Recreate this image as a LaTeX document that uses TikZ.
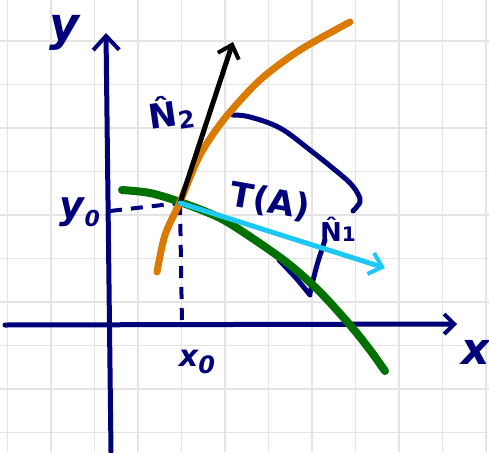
\documentclass[tikz,border=0pt]{standalone}
\usepackage{fontspec}
\setmainfont{DejaVu Sans}
\usetikzlibrary{arrows.meta}
\definecolor{inknavy}{RGB}{0,0,122}
\definecolor{inkorange}{RGB}{218,122,0}
\definecolor{inkgreen}{RGB}{0,112,0}
\definecolor{inkcyan}{RGB}{30,200,245}
\definecolor{gridgray}{RGB}{228,228,228}
\tikzset{
  ink/.style={line cap=round,line join=round},
  axisline/.style={ink,draw=inknavy,line width=5pt,-{Straight Barb[length=14pt,width=26pt,line width=4pt]}},
  guide/.style={ink,draw=inknavy,line width=4pt,dash pattern=on 12pt off 9pt,line cap=butt},
  navystroke/.style={ink,draw=inknavy,line width=5pt},
  lbl/.style={text=inknavy,font=\bfseries\itshape,inner sep=0pt},
}
\begin{document}
\begin{tikzpicture}[x=1pt,y=-1pt]
\useasboundingbox[fill=white] (0,0) rectangle (489,452);
% grid
\foreach \k in {0,...,11} \draw[gridgray,line width=1.6pt] ({7.5+43.5*\k},0) -- ({7.5+43.5*\k},452);
\foreach \k in {0,...,10} \draw[gridgray,line width=1.6pt] (0,{-2.5+43.5*\k}) -- (489,{-2.5+43.5*\k});
% coordinates
\coordinate (A) at (180,203);
\coordinate (ybot) at (111,452);
\coordinate (ytop) at (106,33);
\coordinate (xleft) at (5,325);
\coordinate (xright) at (457,324);
\coordinate (yfoot) at (110,211);
\coordinate (xfoot) at (182,325);
\coordinate (ntip) at (233,42);
\coordinate (ttip) at (385,268);
% axes
\draw[axisline] (ybot) -- (ytop);
\draw[axisline,-{Straight Barb[length=10pt,width=20pt,line width=4pt]}] (xleft) -- (xright);
% dashed guides
\draw[guide] (yfoot) -- (A);
\draw[guide] (A) -- (xfoot);
% navy angle marks
\draw[navystroke] plot[smooth,tension=0.6] coordinates {(233,115) (250,117) (280,128) (310,150) (335,170) (350,183) (358,194) (360,202) (353,211)};
\draw[navystroke] plot[smooth] coordinates {(325,240) (317,265) (310,293)};
\draw[navystroke] plot[smooth] coordinates {(279,260) (296,278) (310,295)};
% green curve
\draw[ink,draw=inkgreen,line width=8pt] plot[smooth] coordinates {(122,190) (150,193) (180,202) (220,218) (255,240) (290,265) (320,292) (350,325) (370,350) (385,371)};
% orange curve
\draw[ink,draw=inkorange,line width=7pt] plot[smooth] coordinates {(157,272) (165,235) (180,202) (200,155) (225,118) (260,80) (300,50) (350,22)};
% vectors
\draw[ink,draw=black,line width=5pt,-{Straight Barb[length=12pt,width=22pt,line width=4pt]}] (A) -- (ntip);
\draw[ink,draw=inkcyan,line width=5pt,-{Straight Barb[length=12pt,width=22pt,line width=4pt]}] (A) -- (ttip);
% labels
\node[lbl,font=\bfseries\itshape\fontsize{46}{46}\selectfont] (ylab) at (64,33) {y};
\node[lbl,font=\bfseries\itshape\fontsize{44}{44}\selectfont] (xlab) at (476,352) {x};
\node[lbl,font=\bfseries\itshape\fontsize{38}{38}\selectfont] (y0lab) at (80,212) {y\raisebox{-8pt}{\fontsize{22}{22}\selectfont 0}};
\node[lbl,font=\bfseries\itshape\fontsize{30}{30}\selectfont] (x0lab) at (197,362) {x\raisebox{-7pt}{\fontsize{24}{24}\selectfont 0}};
\node[lbl,font=\bfseries\fontsize{34}{34}\selectfont,rotate=8] (n2lab) at (171,113) {\^N\raisebox{-4pt}{\fontsize{24}{24}\selectfont 2}};
\node[lbl,font=\bfseries\fontsize{34}{34}\selectfont,rotate=-10] (talab) at (270,202) {T(A)};
\node[lbl,font=\bfseries\fontsize{26}{26}\selectfont] (n1lab) at (338,229) {\^N\raisebox{0pt}{\fontsize{20}{20}\selectfont 1}};
\end{tikzpicture}
\end{document}
